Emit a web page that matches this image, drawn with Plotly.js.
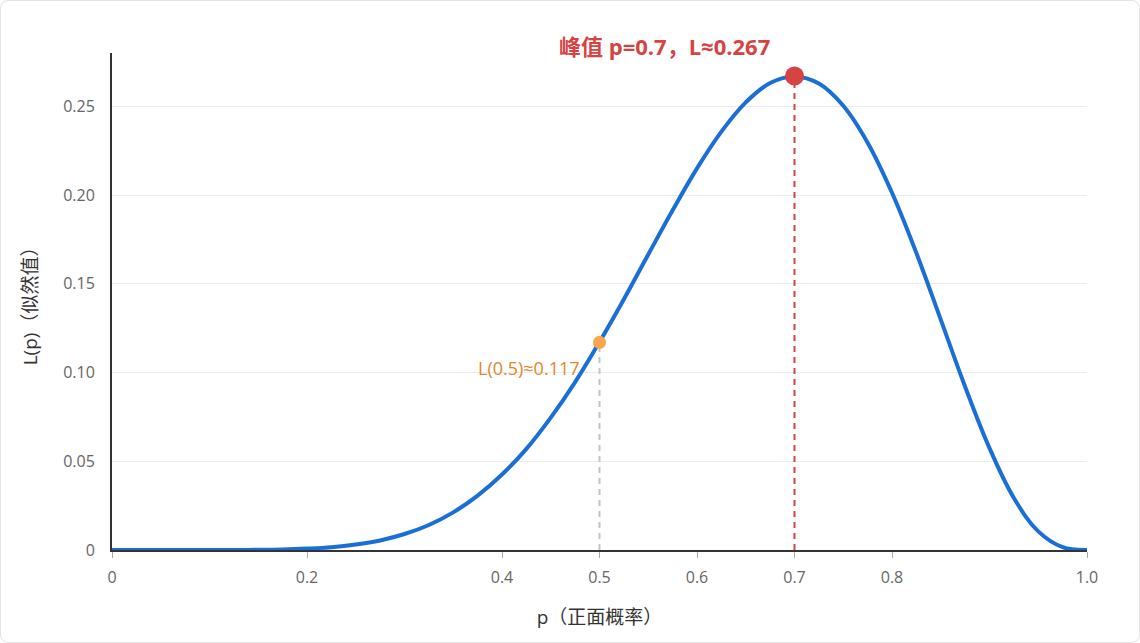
<!DOCTYPE html>
<html>
<head>
<meta charset="utf-8">
<script src="https://cdn.plot.ly/plotly-3.0.1.min.js"></script>
<style>
  html, body { margin: 0; padding: 0; background: #ffffff; }
  #chart { position: absolute; left: 0; top: 0; width: 1140px; height: 643px; }
  #card  { position: absolute; left: 0; top: 0; width: 1138px; height: 641px;
           border: 1px solid #e3e3e3; border-radius: 8px; pointer-events: none; }
</style>
</head>
<body>
<div id="chart"></div>
<div id="card"></div>
<script>
/* ── DATA ────────────────────────────────────────────────── */
const pValues = [0, 0.025, 0.05, 0.075, 0.1, 0.125, 0.15, 0.175, 0.2, 0.225,
                 0.25, 0.275, 0.3, 0.325, 0.35, 0.375, 0.4, 0.425, 0.45, 0.475,
                 0.5, 0.525, 0.55, 0.575, 0.6, 0.625, 0.65, 0.675, 0.7, 0.725,
                 0.75, 0.775, 0.8, 0.825, 0.85, 0.875, 0.9, 0.925, 0.95, 0.975, 1.0];
const likelihood = [0, 0, 0, 0, 0, 0.00003, 0.0001, 0.0003, 0.0008, 0.0016,
                    0.0031, 0.0054, 0.0090, 0.0141, 0.0212, 0.0306, 0.0425, 0.0570, 0.0746, 0.0946,
                    0.1172, 0.1413, 0.1665, 0.1914, 0.2150, 0.2357, 0.2522, 0.2631, 0.2668, 0.2628,
                    0.2503, 0.2295, 0.2013, 0.1673, 0.1298, 0.0920, 0.0574, 0.0293, 0.0105, 0.0016, 0];

const peakP = 0.7, peakL = 0.267;
const refP  = 0.5, refL  = 0.117;

const xTickVals = [0, 0.2, 0.4, 0.5, 0.6, 0.7, 0.8, 1.0];
const xTickText = ["0", "0.2", "0.4", "0.5", "0.6", "0.7", "0.8", "1.0"];
const yTickVals = [0, 0.05, 0.10, 0.15, 0.20, 0.25];
const yTickText = ["0", "0.05", "0.10", "0.15", "0.20", "0.25"];

/* ── COLORS ──────────────────────────────────────────────── */
const colors = {
    line   : "#1a6fd6",
    red    : "#d64343",
    orange : "#f7a64b",
    orangeText : "#e3872c",
    grid   : "#ececec",
    axis   : "#333333",
    tick   : "#666666"
};
const font = "'Open Sans', 'Noto Sans CJK SC', sans-serif";

/* ── TRACES ──────────────────────────────────────────────── */
const curve = {
    x: pValues, y: likelihood, type: "scatter", mode: "lines",
    line: { color: colors.line, width: 4, shape: "spline", smoothing: 1.1 },
    hoverinfo: "skip", cliponaxis: false
};
const peakLine = {
    x: [peakP, peakP], y: [0, peakL], type: "scatter", mode: "lines",
    line: { color: colors.red, width: 2, dash: "6px,5px" }, hoverinfo: "skip"
};
const refLine = {
    x: [refP, refP], y: [0, refL], type: "scatter", mode: "lines",
    line: { color: "#c4c4c4", width: 2, dash: "6px,5px" }, hoverinfo: "skip"
};
const peakDot = {
    x: [peakP], y: [peakL], type: "scatter", mode: "markers",
    marker: { color: colors.red, size: 19 }, cliponaxis: false, hoverinfo: "skip"
};
const refDot = {
    x: [refP], y: [refL], type: "scatter", mode: "markers",
    marker: { color: colors.orange, size: 13 }, cliponaxis: false, hoverinfo: "skip"
};

/* ── LAYOUT ──────────────────────────────────────────────── */
const layout = {
    width: 1140, height: 643,
    paper_bgcolor: "rgba(0,0,0,0)", plot_bgcolor: "rgba(0,0,0,0)",
    margin: { l: 112, r: 53, t: 53, b: 93 },
    showlegend: false,
    font: { family: font, color: colors.tick, size: 16 },
    xaxis: {
        range: [0, 1], tickmode: "array", tickvals: xTickVals, ticktext: xTickText,
        showgrid: false, zeroline: false,
        showline: true, linecolor: colors.axis, linewidth: 2,
        ticks: "outside", ticklen: 6, tickcolor: "#aaaaaa", tickwidth: 1,
        ticklabelstandoff: 6,
        tickfont: { size: 16, color: colors.tick },
        title: { text: "p（正面概率）", font: { size: 19, color: "#333333" }, standoff: 23 }
    },
    yaxis: {
        range: [0, 0.28], tickmode: "array", tickvals: yTickVals, ticktext: yTickText,
        showgrid: true, gridcolor: colors.grid, gridwidth: 1, zeroline: false,
        showline: true, linecolor: colors.axis, linewidth: 2,
        ticks: "", ticklabelstandoff: 12,
        tickfont: { size: 16, color: colors.tick },
        title: { text: "L(p)（似然值）", font: { size: 19, color: "#333333" }, standoff: 20 }
    },
    annotations: [
        {
            x: 0.567, y: 1.014, xref: "x", yref: "paper", showarrow: false,
            xanchor: "center", yanchor: "middle",
            text: "<b>峰值 p=0.7，L≈0.267</b>",
            font: { size: 22, color: colors.red, family: font }
        },
        {
            x: 0.482, y: 0.1025, xref: "x", yref: "y", showarrow: false,
            xanchor: "right", yanchor: "middle", text: "L(0.5)≈0.117",
            font: { size: 18, color: colors.orangeText, family: font }
        }
    ]
};

Plotly.newPlot("chart", [curve, refLine, peakLine, refDot, peakDot], layout,
               { displayModeBar: false, staticPlot: true });
</script>
</body>
</html>
